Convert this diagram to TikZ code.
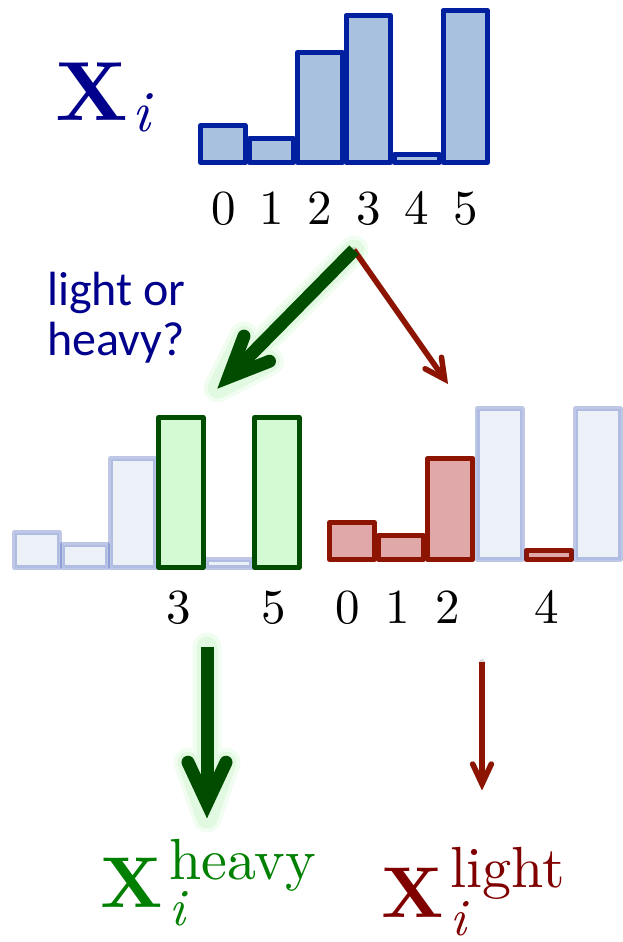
\documentclass[tikz,border=0pt]{standalone}
\usepackage{fontspec}
\setmainfont{lmroman10}[Extension=.otf, UprightFont=*-regular, BoldFont=*-bold, ItalicFont=*-italic, BoldItalicFont=*-bolditalic]
\newfontfamily\carlito{Carlito}
\usetikzlibrary{calc}
\definecolor{topstroke}{RGB}{0,32,160}
\definecolor{topfill}{RGB}{167,193,222}
\definecolor{navyc}{RGB}{0,0,140}
\definecolor{dkgreen}{RGB}{0,77,0}
\definecolor{ltgreen}{RGB}{212,250,212}
\definecolor{glowc}{RGB}{150,235,150}
\definecolor{redstroke}{RGB}{140,20,0}
\definecolor{redfill}{RGB}{224,168,168}
\definecolor{heavygreen}{RGB}{0,128,0}
\definecolor{lightred}{RGB}{128,0,0}
\tikzset{
  topbar/.style={draw=topstroke, fill=topfill, line width=5pt, line join=round},
  fadebar/.style={draw=topstroke, draw opacity=0.25, fill=topfill, fill opacity=0.22, line width=5pt, line join=round},
  greenbar/.style={draw=dkgreen, fill=ltgreen, line width=5pt, line join=round},
  redbar/.style={draw=redstroke, fill=redfill, line width=5pt, line join=round},
  digit/.style={anchor=base, inner sep=0pt, font=\fontsize{49}{49}\selectfont},
  gshaft/.style={draw=dkgreen, line width=13pt, line cap=butt},
  ghead/.style={draw=dkgreen, line width=13pt, line cap=round, line join=miter, miter limit=20},
  rshaft/.style={draw=redstroke, line width=5.5pt, line cap=butt},
  rhead/.style={draw=redstroke, line width=5.5pt, line cap=round, line join=miter, miter limit=20},
  glowline/.style={draw=glowc, line width=29pt, line cap=round, line join=round},
  shadowline/.style={draw=black, line width=6pt, line cap=round, line join=round},
  lbl/.style={anchor=base west, inner sep=0pt},
  bigx/.style={lbl, font=\fontsize{72}{72}\selectfont\bfseries},
  supt/.style={lbl, font=\fontsize{58}{58}\selectfont},
  subi/.style={lbl, font=\fontsize{52}{52}\selectfont\itshape},
  qtext/.style={lbl, navyc, font=\carlito\fontsize{48}{50}\selectfont},
}
\begin{document}
\begin{tikzpicture}[x=1pt,y=-1pt]
\useasboundingbox (0,0) rectangle (623,942);

% ---------- top histogram ----------
\foreach \h [count=\k from 0] in {125.5,138.5,52.5,15.5,154.5,10.5}
  \draw[topbar] (200.5+48.5*\k,162.5) rectangle (245+48.5*\k,\h);

\node[bigx, navyc, font=\fontsize{84}{84}\selectfont\bfseries] (xi) at (55,120) {X};
\node[subi, navyc, font=\fontsize{58}{58}\selectfont\itshape] (xii) at (132,131) {i};

\node[digit] (t0) at (224,224) {0};
\node[digit] (t1) at (272,224) {1};
\node[digit] (t2) at (320,224) {2};
\node[digit] (t3) at (369,224) {3};
\node[digit] (t4) at (417,224) {4};
\node[digit] (t5) at (466,224) {5};

\node[qtext] (q1) at (47,305) {light or};
\node[qtext] (q2) at (47,355) {heavy?};

% ---------- middle left: heavy ----------
\foreach \h/\k in {532.5/0,544.5/1,458.5/2,559.5/4}
  \draw[fadebar] (14.5+48*\k,567.5) rectangle (59+48*\k,\h);
\foreach \k in {3,5}
  \draw[greenbar] (14.5+48*\k,567.5) rectangle (59+48*\k,417.5);

% ---------- middle right: light ----------
\foreach \h/\k in {522.5/0,535.5/1,458.5/2,550.5/4}
  \draw[redbar] (329.5+49.2*\k,559.5) rectangle (374.5+49.2*\k,\h);
\foreach \k in {3,5}
  \draw[fadebar] (329.5+49.2*\k,559.5) rectangle (374.5+49.2*\k,408.5);

\node[digit] (m3) at (179,623) {3};
\node[digit] (m5) at (274,623) {5};
\node[digit] (m0) at (348,623) {0};
\node[digit] (m1) at (398,623) {1};
\node[digit] (m2) at (448,623) {2};
\node[digit] (m4) at (547,623) {4};

% ---------- arrows ----------
\coordinate (split) at (354,250);
\coordinate (gtip) at (218,388);
\coordinate (rtip) at (448,384);
\coordinate (gtop) at (207,647);
\coordinate (gbot) at (207,818);
\coordinate (rtop) at (482,662);
\coordinate (rbot) at (482,790);
\coordinate (gv) at ($(gtip)!15pt!(split)$);
\coordinate (rv) at ($(rtip)!6pt!(split)$);
\coordinate (gv2) at ($(gbot)!15pt!(gtop)$);
\coordinate (rv2) at ($(rbot)!6pt!(rtop)$);

% glow
\begin{scope}[transparency group, opacity=0.12]
  \draw[glowline] (split) -- (gv);
  \draw[glowline] ($(gv)!44pt!24:(split)$) -- (gtip) -- ($(gv)!44pt!-24:(split)$);
  \draw[glowline] (gtop) -- (gv2);
  \draw[glowline] ($(gv2)!45pt!25:(gtop)$) -- (gbot) -- ($(gv2)!45pt!-25:(gtop)$);
\end{scope}
\begin{scope}[transparency group, opacity=0.2]
  \draw[glowline, line width=21pt] (split) -- (gv);
  \draw[glowline, line width=21pt] ($(gv)!44pt!24:(split)$) -- (gtip) -- ($(gv)!44pt!-24:(split)$);
  \draw[glowline, line width=21pt] (gtop) -- (gv2);
  \draw[glowline, line width=21pt] ($(gv2)!45pt!25:(gtop)$) -- (gbot) -- ($(gv2)!45pt!-25:(gtop)$);
\end{scope}
% red shadow
\begin{scope}[transparency group, opacity=0.15, shift={(1.5,2.5)}]
  \draw[shadowline] (split) -- (rv);
  \draw[shadowline] ($(rv)!22pt!27:(split)$) -- (rv) -- ($(rv)!22pt!-27:(split)$);
  \draw[shadowline] (rtop) -- (rv2);
  \draw[shadowline] ($(rv2)!22pt!25:(rtop)$) -- (rv2) -- ($(rv2)!22pt!-25:(rtop)$);
\end{scope}

\draw[rshaft] (split) -- (rv);
\draw[rhead] ($(rv)!22pt!27:(split)$) -- (rv) -- ($(rv)!22pt!-27:(split)$);
\draw[gshaft] (split) -- (gv);
\draw[ghead] ($(gv)!44pt!24:(split)$) -- (gv) -- ($(gv)!44pt!-24:(split)$);

\draw[gshaft] (gtop) -- (gv2);
\draw[ghead] ($(gv2)!45pt!25:(gtop)$) -- (gv2) -- ($(gv2)!45pt!-25:(gtop)$);
\draw[rshaft] (rtop) -- (rv2);
\draw[rhead] ($(rv2)!22pt!25:(rtop)$) -- (rv2) -- ($(rv2)!22pt!-25:(rtop)$);

% ---------- bottom labels ----------
\node[bigx, heavygreen] (xh) at (100,907) {X};
\node[supt, heavygreen] (xhs) at ($(xh.base east)+(6,-28)$) {heavy};
\node[subi, heavygreen] (xhi) at ($(xh.base east)+(6,18)$) {i};

\node[bigx, lightred] (xl) at (381,917) {X};
\node[supt, lightred] (xls) at ($(xl.base east)+(6,-30)$) {light};
\node[subi, lightred] (xli) at ($(xl.base east)+(6,18)$) {i};
\end{tikzpicture}
\end{document}
